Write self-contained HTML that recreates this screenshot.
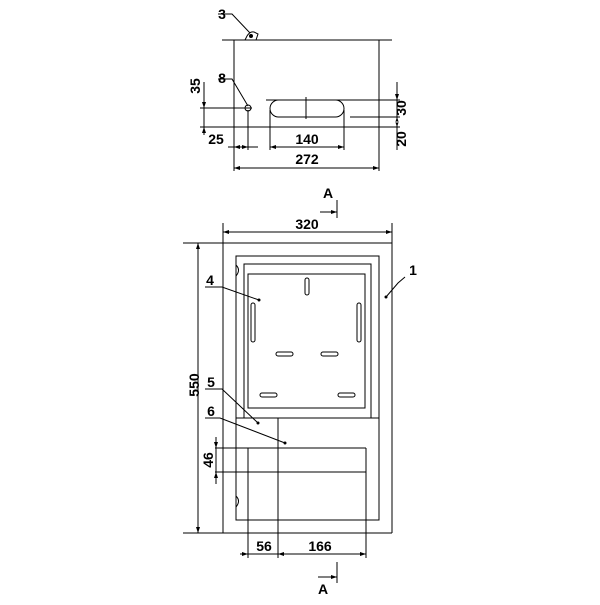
<!DOCTYPE html><html><head><style>body{margin:0;background:#fff}</style></head><body>
<svg width="600" height="600" xmlns="http://www.w3.org/2000/svg" font-family="Liberation Sans, sans-serif" font-weight="bold" font-size="14">
<rect width="600" height="600" fill="#fff"/>
<g stroke="#000" stroke-width="1" fill="none">
<line x1="222" y1="40" x2="392" y2="40"/>
<line x1="234" y1="40" x2="234" y2="171"/>
<line x1="379" y1="40" x2="379" y2="171"/>
<path d="M245 40 L247 36 Q250 31 254 32 L258 34 L256 40"/>
<circle cx="251" cy="36" r="1.5" fill="#000"/>
<circle cx="248" cy="108" r="3"/>
<rect x="270" y="100" width="74" height="17" rx="8.5"/>
<line x1="306" y1="97" x2="306" y2="119"/>
<line x1="266" y1="100" x2="400" y2="100"/>
<line x1="200" y1="108" x2="252" y2="108"/>
<line x1="350" y1="117" x2="400" y2="117"/>
<line x1="200" y1="127" x2="400" y2="127"/>
<line x1="204" y1="82" x2="204" y2="135"/>
<line x1="397" y1="82" x2="397" y2="150"/>
<line x1="248" y1="110" x2="248" y2="150"/>
<line x1="270" y1="110" x2="270" y2="150"/>
<line x1="344" y1="110" x2="344" y2="150"/>
<line x1="228" y1="147" x2="258" y2="147"/>
<line x1="270" y1="147" x2="344" y2="147"/>
<line x1="234" y1="168" x2="379" y2="168"/>
<line x1="183" y1="243" x2="392" y2="243"/>
<line x1="183" y1="533" x2="392" y2="533"/>
<line x1="223" y1="243" x2="223" y2="533"/>
<line x1="392" y1="243" x2="392" y2="533"/>
<line x1="198" y1="243" x2="198" y2="533"/>
<rect x="236" y="256" width="143" height="264"/>
<rect x="244" y="264" width="127" height="154"/>
<rect x="248" y="274" width="117" height="134"/>
<rect x="305" y="278" width="4" height="17" rx="2"/>
<rect x="251" y="303" width="4" height="39" rx="2"/>
<rect x="357" y="303" width="4" height="39" rx="2"/>
<rect x="276" y="352" width="17" height="4" rx="2"/>
<rect x="321" y="352" width="17" height="4" rx="2"/>
<rect x="260" y="393" width="17" height="4" rx="2"/>
<rect x="338" y="393" width="17" height="4" rx="2"/>
<path d="M236 265 Q241 270 236 276"/>
<path d="M236 496 Q241 501 236 507"/>
<line x1="236" y1="418" x2="379" y2="418"/>
<line x1="278" y1="418" x2="278" y2="558"/>
<line x1="248" y1="448" x2="248" y2="558"/>
<line x1="366" y1="448" x2="366" y2="558"/>
<line x1="215" y1="448" x2="366" y2="448"/>
<line x1="215" y1="472" x2="366" y2="472"/>
<line x1="216" y1="437" x2="216" y2="484"/>
<line x1="240" y1="554" x2="366" y2="554"/>
<line x1="223" y1="223" x2="223" y2="243"/>
<line x1="392" y1="223" x2="392" y2="243"/>
<line x1="223" y1="232" x2="392" y2="232"/>
<line x1="337" y1="200" x2="337" y2="218"/>
<line x1="320" y1="212" x2="337" y2="212"/>
<line x1="337" y1="562" x2="337" y2="583"/>
<line x1="318" y1="577" x2="337" y2="577"/>
<path d="M218 14 L232 14 L250 33"/>
<path d="M218 79 L232 79 L248 106"/>
<path d="M405 277 L398 283 L386 297"/>
<path d="M205 287 L222 287 L259 300"/>
<path d="M205 389 L222 389 L258 423"/>
<path d="M205 418 L220 418 L285 443"/>
</g>
<g fill="#000">
<circle cx="386" cy="297" r="1.5"/><circle cx="259" cy="300" r="1.5"/><circle cx="258" cy="423" r="1.5"/><circle cx="285" cy="443" r="1.5"/>
<path d="M234 147 l6 -2 v4z M248 147 l-6 -2 v4z M270 147 l6 -2 v4z M344 147 l-6 -2 v4z M234 168 l6 -2 v4z M379 168 l-6 -2 v4z"/>
<path d="M223 232 l6 -2 v4z M392 232 l-6 -2 v4z M198 243 l-2 6 h4z M198 533 l-2 -6 h4z"/>
<path d="M204 108 l-2 -6 h4z M204 127 l-2 6 h4z M397 100 l-2 -6 h4z M397 117 l-2 6 h4z M397 127 l-2 -6 h4z"/>
<path d="M216 448 l-2 -6 h4z M216 472 l-2 6 h4z"/>
<path d="M248 554 l-6 -2 v4z M278 554 l6 -2 v4z M366 554 l-6 -2 v4z M337 212 l-6 -2 v4z M337 577 l-6 -2 v4z"/>
</g>
<g fill="#000" text-anchor="middle">
<text x="222" y="19">3</text>
<text x="222" y="83">8</text>
<text x="216" y="144">25</text>
<text x="307" y="144">140</text>
<text x="307" y="164">272</text>
<text x="208" y="94" transform="rotate(-90 200 94)">35</text>
<text x="401" y="108" transform="rotate(-90 401 108)" dy="5">30</text>
<text x="401" y="139" transform="rotate(-90 401 139)" dy="5">20</text>
<text x="328" y="198">A</text>
<text x="307" y="229">320</text>
<text x="413" y="275">1</text>
<text x="210" y="285">4</text>
<text x="211" y="387">5</text>
<text x="211" y="416">6</text>
<text x="194" y="385" transform="rotate(-90 194 385)" dy="5">550</text>
<text x="208" y="460" transform="rotate(-90 208 460)" dy="5">46</text>
<text x="264" y="551">56</text>
<text x="320" y="551">166</text>
<text x="323" y="594">A</text>
</g>
</svg></body></html>
